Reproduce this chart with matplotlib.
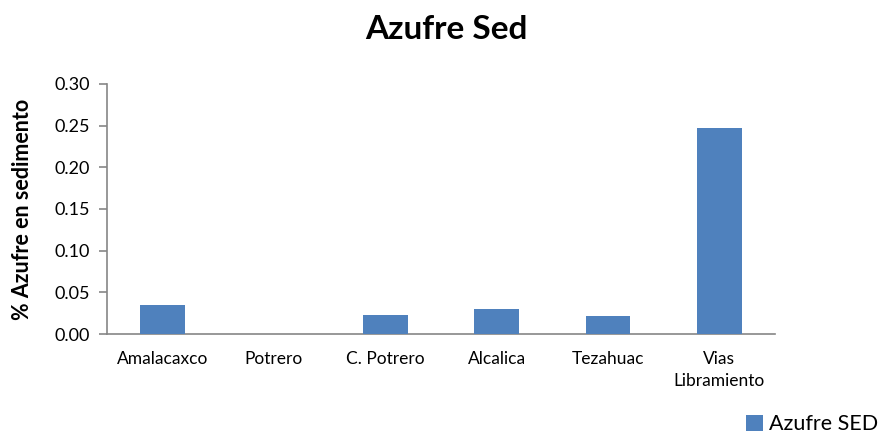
import matplotlib.pyplot as plt
import numpy as np

# Data
sites = ['Amalacaxco', 'Potrero', 'C. Potrero', 'Alcalica', 'Tezahuac', 'Vias\nLibramiento']
azufre_sed = [0.035, 0.0, 0.023, 0.030, 0.022, 0.247]
yticks = [0.00, 0.05, 0.10, 0.15, 0.20, 0.25, 0.30]

plt.rcParams['font.family'] = ['Lato', 'DejaVu Sans']

fig = plt.figure(figsize=(8.93, 4.34), dpi=100)
ax = fig.add_axes([0.1198, 0.2304, 0.748, 0.5761])

x = np.arange(len(sites))
ax.bar(x, azufre_sed, width=0.4, color='#4F81BD', label='Azufre SED', zorder=3)

ax.set_xlim(-0.5, len(sites) - 0.5)
ax.set_ylim(0, 0.30)
ax.set_yticks(yticks)
ax.set_yticklabels([f'{v:.2f}' for v in yticks], fontsize=13)
ax.set_xticks(x)
ax.set_xticklabels(sites, fontsize=12.5, linespacing=1.45)

for side in ['top', 'right']:
    ax.spines[side].set_visible(False)
for side in ['left', 'bottom']:
    ax.spines[side].set_color('#868686')
    ax.spines[side].set_linewidth(1.2)
ax.tick_params(axis='y', color='#868686', length=6, width=1.2, pad=6)
ax.tick_params(axis='x', length=0, pad=12)

ax.set_ylabel('% Azufre en sedimento', fontsize=15.5, fontweight='bold', labelpad=16)
fig.suptitle('Azufre Sed', fontsize=24, fontweight='bold', y=0.965)

fig.legend(loc='lower right', bbox_to_anchor=(1.005, -0.045), frameon=False,
           fontsize=15.5, handlelength=0.75, handleheight=0.75, handletextpad=0.3)

plt.savefig('out.png', dpi=100)
plt.close()
